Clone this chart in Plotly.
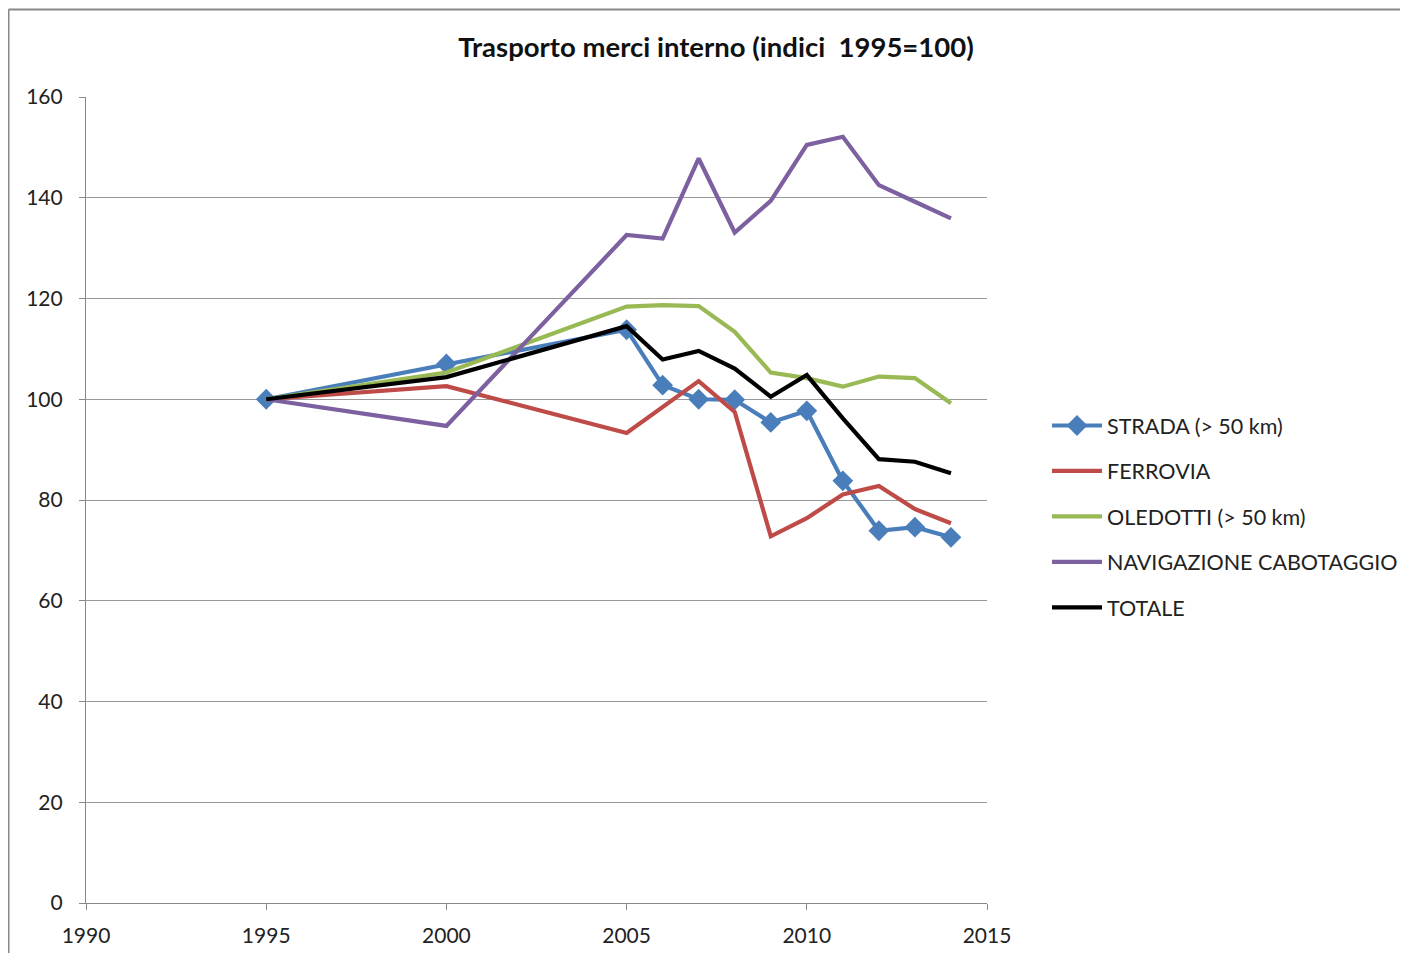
import plotly.graph_objects as go

years = [1995, 2000, 2005, 2006, 2007, 2008, 2009, 2010, 2011, 2012, 2013, 2014]
strada = [100, 107.0, 113.8, 102.8, 100.0, 99.9, 95.4, 97.7, 83.8, 73.9, 74.6, 72.6]
ferrovia = [100, 102.6, 93.3, 98.5, 103.6, 97.5, 72.8, 76.4, 81.1, 82.8, 78.2, 75.4]
oledotti = [100, 105.3, 118.4, 118.7, 118.5, 113.4, 105.3, 104.2, 102.5, 104.5, 104.2, 99.2]
navigazione = [100, 94.7, 132.6, 131.9, 147.8, 133.1, 139.4, 150.5, 152.1, 142.5, 139.2, 135.9]
totale = [100, 104.4, 114.5, 107.9, 109.6, 106.1, 100.5, 104.8, 96.2, 88.1, 87.6, 85.3]

names = ["STRADA (> 50 km)", "FERROVIA", "OLEDOTTI (> 50 km)", "NAVIGAZIONE CABOTAGGIO", "TOTALE"]
colors = ["#4A7EBB", "#BE4B48", "#98B954", "#7D60A0", "#000000"]
series = [strada, ferrovia, oledotti, navigazione, totale]

x_ticks = [1990, 1995, 2000, 2005, 2010, 2015]
y_ticks = [0, 20, 40, 60, 80, 100, 120, 140, 160]

FONT = "Lato"

fig = go.Figure()
for i, (name, col, vals) in enumerate(zip(names, colors, series)):
    if i == 0:
        fig.add_trace(go.Scatter(x=years, y=vals, name=name, mode="lines+markers",
                                 line=dict(color=col, width=4.2),
                                 marker=dict(symbol="diamond", size=16, color=col),
                                 legendgroup=str(i)))
    else:
        fig.add_trace(go.Scatter(x=years, y=vals, name=name, mode="lines",
                                 line=dict(color=col, width=4.2),
                                 legendgroup=str(i)))

OFF = 8  # page body margin
W, H = 1408 - 2 * OFF, 961 - 2 * OFF
L, T = 86 - OFF, 97 - OFF
R = W - (987 - OFF)
B = H - (903 - OFF)
pw, ph = W - L - R, H - T - B

fig.update_layout(
    width=W, height=H,
    margin=dict(l=L, r=R, t=T, b=B, autoexpand=False),
    paper_bgcolor="white", plot_bgcolor="white",
    font=dict(family=FONT, size=21, color="#222"),
    title=dict(text="<b>Trasporto merci interno (indici  1995=100)</b>",
               x=(716 - OFF - L) / pw, xref="paper", xanchor="center",
               y=1 - (47 - OFF) / H, yanchor="middle",
               font=dict(family=FONT, size=27.5, color="#111")),
    legend=dict(x=(1047 - OFF - L) / pw, xanchor="left", y=(903 - 405) / ph, yanchor="top",
                font=dict(family=FONT, size=21.5, color="#222"),
                traceorder="grouped", tracegroupgap=14.5, itemwidth=50,
                bgcolor="rgba(0,0,0,0)"),
    xaxis=dict(range=[1990, 2015], tickvals=x_ticks, showgrid=False, automargin=False,
               showline=True, linecolor="#888", linewidth=1.2,
               ticks="outside", ticklen=6, tickcolor="#888", ticklabelstandoff=8,
               zeroline=False, tickfont=dict(size=21, color="#222")),
    yaxis=dict(range=[0, 160], tickvals=y_ticks, showgrid=True, gridcolor="#999", automargin=False,
               gridwidth=1.2, showline=True, linecolor="#888", linewidth=1.2,
               ticks="outside", ticklen=6, tickcolor="#888", ticklabelstandoff=12,
               zeroline=False, tickfont=dict(size=21, color="#222")),
    showlegend=True,
)

# outer chart frame (top and left edges at the figure edge)
fx0 = (0.5 - L) / pw
fy1 = 1 + (T - 1.5) / ph
fig.add_shape(type="line", xref="paper", yref="paper", x0=fx0, x1=(W - L) / pw,
              y0=fy1, y1=fy1, line=dict(color="#888", width=2))
fig.add_shape(type="line", xref="paper", yref="paper", x0=fx0, x1=fx0,
              y0=fy1, y1=-B / ph, line=dict(color="#888", width=2))

fig.write_html("out.html")
